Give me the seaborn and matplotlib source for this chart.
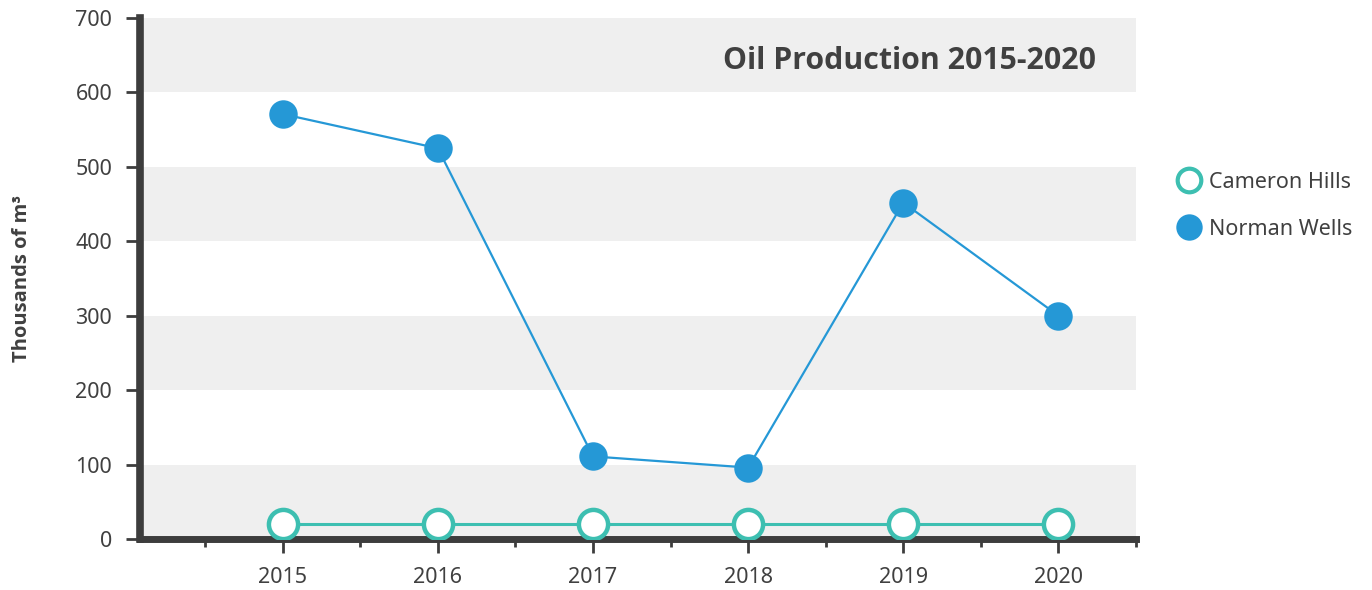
import matplotlib
matplotlib.use("Agg")
import matplotlib.pyplot as plt
from matplotlib.lines import Line2D
from matplotlib.ticker import MultipleLocator
import seaborn as sns
import pandas as pd

years = [2015, 2016, 2017, 2018, 2019, 2020]
cameron_hills = [20, 20, 20, 20, 20, 20]
norman_wells = [571, 525, 111, 96, 452, 300]
y_ticks = [0, 100, 200, 300, 400, 500, 600, 700]

title = "Oil Production 2015-2020"
y_label = "Thousands of m³"

c_teal = "#3dbfb1"
c_blue = "#2598d6"
c_dark = "#3d3d3d"
c_text = "#404040"

sns.set_theme(style="white")
plt.rcParams['font.family'] = ['Noto Sans', 'DejaVu Sans']
bold_family = ['Open Sans', 'DejaVu Sans']

fig = plt.figure(figsize=(13.72, 5.9), dpi=100)
ax = fig.add_axes([0.102, 0.0864, 0.726, 0.883])

# alternating bands
for lo in range(0, 700, 200):
    ax.axhspan(lo, lo + 100, color="#efefef", zorder=0, lw=0)

df_c = pd.DataFrame({"year": years, "value": cameron_hills})
df_n = pd.DataFrame({"year": years, "value": norman_wells})

sns.lineplot(data=df_c, x="year", y="value", ax=ax, color=c_teal, lw=2.2,
             marker="o", markersize=21, markerfacecolor="white",
             markeredgecolor=c_teal, markeredgewidth=3.2, zorder=3)
sns.lineplot(data=df_n, x="year", y="value", ax=ax, color=c_blue, lw=1.6,
             marker="o", markersize=20.5, markerfacecolor=c_blue,
             markeredgecolor=c_blue, markeredgewidth=0, zorder=4)

ax.set_xlim(2014.08, 2020.5)
ax.set_ylim(0, 700)
ax.set_yticks(y_ticks)
ax.set_yticklabels([str(v) for v in y_ticks])
ax.set_xticks(years)
ax.set_xticklabels([str(y) for y in years])
ax.xaxis.set_minor_locator(MultipleLocator(1, offset=0.5))

for s in ["top", "right"]:
    ax.spines[s].set_visible(False)
ax.spines["left"].set_linewidth(5.5)
ax.spines["bottom"].set_linewidth(5)
ax.spines["left"].set_color(c_dark)
ax.spines["bottom"].set_color(c_dark)

ax.tick_params(axis="y", which="major", direction="out", length=10, width=2,
               color=c_dark, labelsize=15.5, labelcolor=c_text, pad=10, left=True)
ax.tick_params(axis="x", which="major", direction="out", length=10, width=2,
               color=c_dark, labelsize=15.5, labelcolor=c_text, pad=10, bottom=True)
ax.tick_params(axis="x", which="minor", direction="out", length=6, width=2,
               color=c_dark, bottom=True)

ax.set_xlabel("")
ax.set_ylabel(y_label, fontsize=14.5, fontweight="bold", color=c_text,
              labelpad=31, family=bold_family)

ax.text(2020.24, 642, title, ha="right", va="center", fontsize=21.8,
        fontweight="bold", color=c_text, zorder=5, family=bold_family)

handles = [
    Line2D([], [], ls="none", marker="o", markersize=17, markerfacecolor="white",
           markeredgecolor=c_teal, markeredgewidth=3),
    Line2D([], [], ls="none", marker="o", markersize=19, markerfacecolor=c_blue,
           markeredgecolor=c_blue, markeredgewidth=0),
]
leg = ax.legend(handles, ["Cameron Hills", "Norman Wells"], loc="center left",
                bbox_to_anchor=(1.021, 0.64), frameon=False, fontsize=15.5,
                handletextpad=0.3, labelspacing=1.2, handlelength=1.2)
for t in leg.get_texts():
    t.set_color(c_text)

fig.savefig("out.png", dpi=100)
